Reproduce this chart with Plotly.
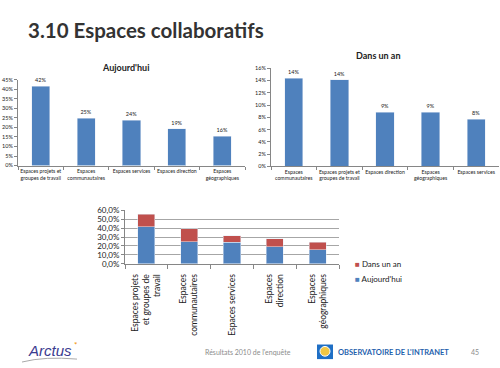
import plotly.graph_objects as go

# ---- data ----
cats_today = ["Espaces projets et<br>groupes de travail", "Espaces<br>communautaires",
              "Espaces services", "Espaces direction", "Espaces<br>géographiques"]
vals_today = [0.416, 0.249, 0.239, 0.193, 0.155]

cats_year = ["Espaces<br>communautaires", "Espaces projets et<br>groupes de travail",
             "Espaces direction", "Espaces<br>géographiques", "Espaces services"]
vals_year = [0.144, 0.141, 0.088, 0.088, 0.077]

cats_stack = ["Espaces projets<br>et groupes de<br>travail", "Espaces<br>communautaires",
              "Espaces services", "Espaces<br>direction", "Espaces<br>géographiques"]
stack_today = [0.416, 0.249, 0.239, 0.193, 0.155]
stack_year = [0.141, 0.144, 0.077, 0.088, 0.088]

BLUE = "#4F81BD"
RED = "#C0504D"
FONT = "Lato"
W, H = 500, 368

def px(x):
    return x / W

def py(y):
    return 1 - y / H

fig = go.Figure()

fig.add_trace(go.Bar(x=cats_today, y=vals_today, marker_color=BLUE, xaxis="x", yaxis="y",
                     texttemplate="%{y:.0%}", textposition="outside", cliponaxis=False,
                     textfont=dict(size=5.5, color="#222"), showlegend=False, width=0.4))
fig.add_trace(go.Bar(x=cats_year, y=vals_year, marker_color=BLUE, xaxis="x2", yaxis="y2",
                     texttemplate="%{y:.0%}", textposition="outside", cliponaxis=False,
                     textfont=dict(size=5.5, color="#222"), showlegend=False, width=0.4))
fig.add_trace(go.Bar(x=cats_stack, y=stack_today, marker_color=BLUE, xaxis="x3", yaxis="y3",
                     name="Aujourd'hui", width=0.4, showlegend=False))
fig.add_trace(go.Bar(x=cats_stack, y=stack_year, marker_color=RED, xaxis="x3", yaxis="y3",
                     name="Dans un an", width=0.4, showlegend=False))

small_axis = dict(showgrid=False, showline=True, linecolor="#868686", linewidth=1,
                  ticks="outside", ticklen=3, tickcolor="#868686", zeroline=False)

fig.update_layout(
    width=W, height=H, margin=dict(l=0, r=0, t=0, b=0),
    paper_bgcolor="white", plot_bgcolor="white",
    barmode="stack", separators=", ",
    font=dict(family=FONT, color="#222"),
    xaxis=dict(domain=[px(18), px(245)], anchor="y", tickson="boundaries", tickangle=0,
               tickfont=dict(size=5.2), **small_axis),
    yaxis=dict(domain=[py(165), py(77)], anchor="x", range=[0, 0.45], dtick=0.05,
               tickformat=".0%", tickfont=dict(size=5.5), **small_axis),
    xaxis2=dict(domain=[px(271), px(499)], anchor="y2", tickson="boundaries", tickangle=0,
                tickfont=dict(size=5.2), **small_axis),
    yaxis2=dict(domain=[py(166), py(65)], anchor="x2", range=[0, 0.16], dtick=0.02,
                tickformat=".0%", tickfont=dict(size=5.5), **small_axis),
    xaxis3=dict(domain=[px(125), px(339)], anchor="y3", tickson="boundaries", tickangle=-90,
                tickfont=dict(size=8.5), ticklabelstandoff=6, showgrid=False, showline=True,
                linecolor="#868686", ticks="outside", ticklen=4, tickcolor="#868686"),
    yaxis3=dict(domain=[py(266), py(211)], anchor="x3", range=[0, 0.6], dtick=0.1,
                tickformat=".1%", tickfont=dict(size=8), showgrid=True, gridcolor="#A6A6A6",
                gridwidth=1, showline=True, linecolor="#868686", ticks="outside", ticklen=3,
                tickcolor="#868686", zeroline=False),
    bargap=0.6,
)

ann = [
    dict(text="<b>3.10 Espaces collaboratifs</b>", x=px(26), y=py(26), xanchor="left",
         yanchor="middle", font=dict(size=20.5, color="#333333")),
    dict(text="<b>Aujourd'hui</b>", x=px(125), y=py(64), xanchor="center", yanchor="middle",
         font=dict(size=9)),
    dict(text="<b>Dans un an</b>", x=px(378), y=py(52), xanchor="center", yanchor="middle",
         font=dict(size=9)),
    dict(text=f"<span style='color:{RED}'>■</span> Dans un an", x=px(353), y=py(266),
         xanchor="left", yanchor="middle", font=dict(size=8)),
    dict(text=f"<span style='color:{BLUE}'>■</span> Aujourd'hui", x=px(353), y=py(282),
         xanchor="left", yanchor="middle", font=dict(size=8)),
    dict(text="<i>Arctus</i>", x=px(26), y=py(355), xanchor="left", yanchor="middle",
         font=dict(size=15, color="#3B3B8F", family="Liberation Sans")),
    dict(text="*", x=px(72), y=py(350), xanchor="left", yanchor="middle",
         font=dict(size=8, color="#F39200")),
    dict(text="Résultats 2010 de l'enquête", x=px(203), y=py(357), xanchor="left",
         yanchor="middle", font=dict(size=7, color="#8C8C8C")),
    dict(text="<b>OBSERVATOIRE DE L'INTRANET</b>", x=px(336), y=py(357), xanchor="left",
         yanchor="middle", font=dict(size=7.5, color="#1F5FAD")),
    dict(text="45", x=px(469), y=py(357), xanchor="left", yanchor="middle",
         font=dict(size=7, color="#8C8C8C")),
]
for a in ann:
    a.update(xref="paper", yref="paper", showarrow=False)
fig.update_layout(annotations=ann)

fig.update_layout(shapes=[
    dict(type="rect", xref="paper", yref="paper", x0=px(317), x1=px(333), y0=py(364), y1=py(349),
         fillcolor="#1F6FC5", line=dict(width=0), layer="above"),
    dict(type="circle", xref="paper", yref="paper", x0=px(320), x1=px(330), y0=py(361), y1=py(351),
         fillcolor="#F2C744", line=dict(color="white", width=1), layer="above"),
    dict(type="path", xref="paper", yref="paper",
         path=f"M {px(22)} {py(367)} Q {px(45)} {py(361)} {px(77)} {py(364)}",
         line=dict(color="#AAAAAA", width=1)),
])

fig.write_html("out.html", config={"displayModeBar": False},
               post_script="document.body.style.margin='0';document.body.style.overflow='hidden';")
